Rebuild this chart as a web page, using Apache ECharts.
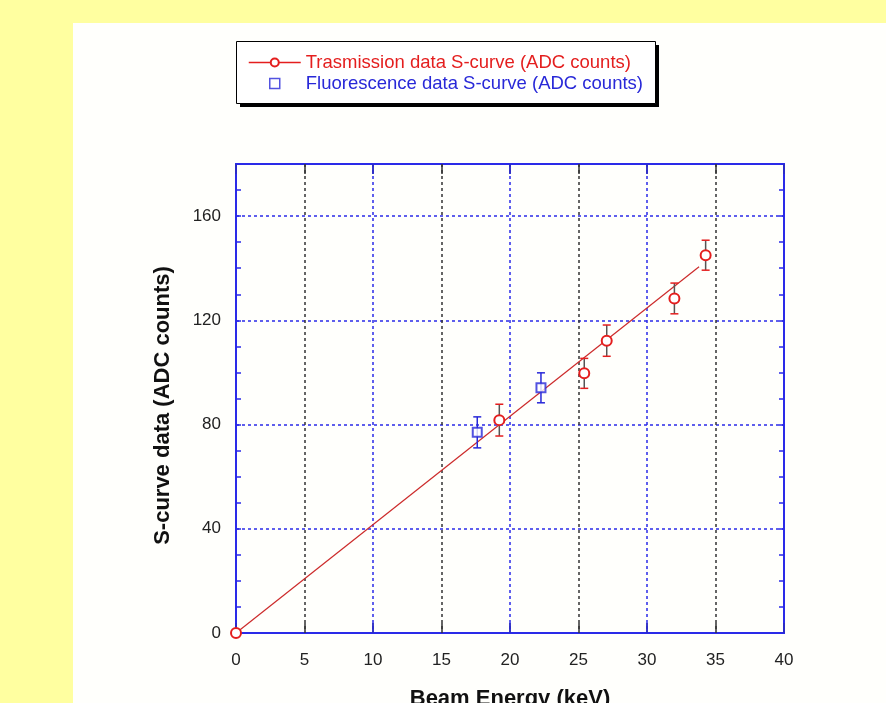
<!DOCTYPE html>
<html>
<head>
<meta charset="utf-8">
<script src="https://cdn.jsdelivr.net/npm/echarts@6/dist/echarts.min.js"></script>
<style>
  html, body { margin: 0; padding: 0; background: #ffffa0; }
  #chart { width: 886px; height: 703px; }
</style>
</head>
<body>
<div id="chart"></div>
<script>
// values
var transName = 'Trasmission data S-curve (ADC counts)';
var fluoName = 'Fluorescence data S-curve (ADC counts)';

var transX = [0, 19.22, 25.42, 27.06, 32.0, 34.28];
var transY = [0, 81.7, 99.65, 112.2, 128.4, 145.0];
var transErr = [0, 6.1, 5.75, 6.0, 5.9, 5.75];

var fluoX = [17.61, 22.26];
var fluoY = [77.0, 94.1];
var fluoErr = [5.95, 5.75];

// straight fit through the transmission points
var fitX = [0, 33.8];
var fitY = [0, 140.6];

var yLabelTicks = [0, 40, 80, 120, 160];

var RED = '#e41e1e';
var BLUE = '#2828d8';
var AXIS_BLUE = '#2a2ae8';
var FONT = '"Liberation Sans", Arial, sans-serif';

function pairs(xs, ys) {
    return xs.map(function (x, i) { return [x, ys[i]]; });
}
function errRows(xs, ys, es) {
    return xs.map(function (x, i) { return [x, ys[i] - es[i], ys[i] + es[i]]; });
}

function errRenderer(stemColor, capColor) {
    return function (params, api) {
        var x = api.value(0);
        var lo = api.coord([x, api.value(1)]);
        var hi = api.coord([x, api.value(2)]);
        var h = 4;
        return {
            type: 'group',
            children: [
                { type: 'line', shape: { x1: lo[0], y1: lo[1], x2: hi[0], y2: hi[1] }, style: { stroke: stemColor, lineWidth: 1.5 } },
                { type: 'line', shape: { x1: hi[0] - h, y1: hi[1], x2: hi[0] + h, y2: hi[1] }, style: { stroke: capColor, lineWidth: 1.5 } },
                { type: 'line', shape: { x1: lo[0] - h, y1: lo[1], x2: lo[0] + h, y2: lo[1] }, style: { stroke: capColor, lineWidth: 1.5 } }
            ]
        };
    };
}

function xAxisOpt(pos, interval, tickColor, main) {
    return {
        type: 'value', position: pos, min: 0, max: 40, interval: interval,
        axisLine: { show: true, onZero: false, lineStyle: { color: AXIS_BLUE, width: 2 } },
        axisTick: { show: true, inside: true, length: 10, lineStyle: { color: tickColor, width: 1.5 } },
        axisLabel: { show: main, margin: 19, color: '#222', fontSize: 17, fontFamily: FONT },
        splitLine: {
            show: main,
            lineStyle: { color: [AXIS_BLUE, '#333333'], type: [3, 3], width: 1.5 }
        },
        name: main ? 'Beam Energy (keV)' : '',
        nameLocation: 'middle', nameGap: 55,
        nameTextStyle: { color: '#111', fontSize: 22, fontWeight: 'bold', fontFamily: FONT }
    };
}

function yAxisOpt(pos, main) {
    return {
        type: 'value', position: pos, min: 0, max: 180, interval: 10,
        axisLine: { show: true, onZero: false, lineStyle: { color: AXIS_BLUE, width: 2 } },
        axisTick: { show: true, inside: true, length: 5, lineStyle: { color: AXIS_BLUE, width: 1.5 } },
        axisLabel: {
            show: main, margin: 15, color: '#222', fontSize: 17, fontFamily: FONT,
            formatter: function (v) { return yLabelTicks.indexOf(v) >= 0 ? String(v) : ''; }
        },
        splitLine: {
            show: main,
            lineStyle: { color: [AXIS_BLUE, 'transparent', 'transparent', 'transparent'], type: [3, 3], width: 1.5 }
        },
        name: main ? 'S-curve data (ADC counts)' : '',
        nameLocation: 'middle', nameGap: 62,
        nameTextStyle: { color: '#111', fontSize: 22, fontWeight: 'bold', fontFamily: FONT, padding: [0, 14, 0, 0] }
    };
}

var chart = echarts.init(document.getElementById('chart'));
chart.setOption({
    backgroundColor: '#ffffa0',
    animation: false,
    graphic: [
        { type: 'rect', left: 73, top: 23, z: -10, shape: { width: 813, height: 680 }, style: { fill: '#fffffc' } },
        // legend frame with its hard black shadow
        { type: 'rect', left: 240, top: 45, z: -5, shape: { width: 419, height: 62 }, style: { fill: '#000' } },
        { type: 'rect', left: 236, top: 41, z: -4, shape: { width: 419, height: 62 }, style: { fill: '#fff', stroke: '#000', lineWidth: 1 } }
    ],
    grid: { left: 236, top: 164, right: 102, bottom: 70, outerBoundsMode: 'none' },
    legend: {
        orient: 'vertical', left: 236, top: 41,
        padding: [12, 12, 10, 12], itemGap: 2,
        itemWidth: 52, itemHeight: 10,
        selectedMode: false,
        textStyle: { fontSize: 18.5, lineHeight: 19, fontFamily: FONT },
        data: [
            { name: transName, textStyle: { color: RED }, lineStyle: { color: RED, width: 1.5, opacity: 1 } },
            {
                name: fluoName, textStyle: { color: BLUE },
                icon: 'path://M0 0H10V10H0Z',
                itemStyle: { color: '#fff', borderColor: BLUE, borderWidth: 1.5 }
            }
        ]
    },
    xAxis: [
        xAxisOpt('bottom', 5, '#333333', true),
        xAxisOpt('bottom', 10, AXIS_BLUE, false),
        xAxisOpt('top', 5, '#333333', false),
        xAxisOpt('top', 10, AXIS_BLUE, false)
    ],
    yAxis: [
        yAxisOpt('left', true),
        yAxisOpt('right', false)
    ],
    series: [
        {
            type: 'line', name: 'fit', data: pairs(fitX, fitY),
            symbol: 'none', lineStyle: { color: '#cc2a2a', width: 1.2 }, z: 2
        },
        {
            type: 'custom', name: 'transErr', data: errRows(transX, transY, transErr),
            renderItem: errRenderer('#555555', RED), z: 3
        },
        {
            type: 'custom', name: 'fluoErr', data: errRows(fluoX, fluoY, fluoErr),
            renderItem: errRenderer(BLUE, BLUE), z: 3
        },
        {
            type: 'line', name: transName, data: pairs(transX, transY),
            symbol: 'emptyCircle', symbolSize: 10, showAllSymbol: true,
            lineStyle: { opacity: 0 },
            itemStyle: { color: RED, borderColor: RED, borderWidth: 1.5 },
            clip: false, z: 4
        },
        {
            type: 'scatter', name: fluoName, data: pairs(fluoX, fluoY),
            symbol: 'emptyRect', symbolSize: 9,
            itemStyle: { color: BLUE, borderColor: BLUE, borderWidth: 1.5 },
            z: 4
        }
    ]
});
</script>
</body>
</html>
